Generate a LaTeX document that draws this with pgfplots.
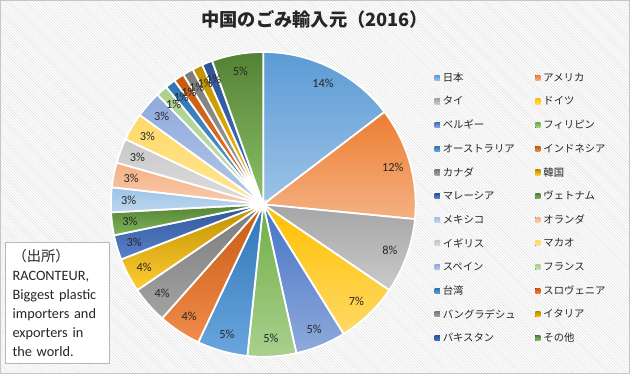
\documentclass[border=0pt]{standalone}
\usepackage{pgfplots}
\pgfplotsset{compat=1.18}
\usepackage{pgfplotstable}
\usetikzlibrary{patterns}
\usepackage{fontspec}
\setmainfont{Carlito}
\newfontfamily\cjk{Noto Sans CJK JP}

% slice colours (top / bottom of the vertical gradient)
\definecolor{pc0t}{HTML}{5B9BD5}\definecolor{pc0b}{HTML}{9DC3E6}
\definecolor{pc1t}{HTML}{ED7D31}\definecolor{pc1b}{HTML}{F4B183}
\definecolor{pc2t}{HTML}{A5A5A5}\definecolor{pc2b}{HTML}{CACACA}
\definecolor{pc3t}{HTML}{FFC000}\definecolor{pc3b}{HTML}{FFD966}
\definecolor{pc4t}{HTML}{4472C4}\definecolor{pc4b}{HTML}{8FAADC}
\definecolor{pc5t}{HTML}{70AD47}\definecolor{pc5b}{HTML}{A9D18E}
\definecolor{pc6t}{HTML}{2E75B6}\definecolor{pc6b}{HTML}{6AA6DE}
\definecolor{pc7t}{HTML}{C55A11}\definecolor{pc7b}{HTML}{F28C4C}
\definecolor{pc8t}{HTML}{7B7B7B}\definecolor{pc8b}{HTML}{A3A3A3}
\definecolor{pc9t}{HTML}{BF9000}\definecolor{pc9b}{HTML}{FFCC33}
\definecolor{pc10t}{HTML}{2F5597}\definecolor{pc10b}{HTML}{5A82CC}
\definecolor{pc11t}{HTML}{548235}\definecolor{pc11b}{HTML}{7EB55A}
\definecolor{pc12t}{HTML}{9DC3E6}\definecolor{pc12b}{HTML}{BDD7EE}
\definecolor{pc13t}{HTML}{F4B183}\definecolor{pc13b}{HTML}{F8CBAD}
\definecolor{pc14t}{HTML}{C9C9C9}\definecolor{pc14b}{HTML}{DDDDDD}
\definecolor{pc15t}{HTML}{FFD966}\definecolor{pc15b}{HTML}{FFE699}
\definecolor{pc16t}{HTML}{8FAADC}\definecolor{pc16b}{HTML}{B4C7E7}
\definecolor{pc17t}{HTML}{A9D18E}\definecolor{pc17b}{HTML}{C5E0B4}
\definecolor{pc18t}{HTML}{2E75B6}\definecolor{pc18b}{HTML}{5B9BD5}
\definecolor{pc19t}{HTML}{C55A11}\definecolor{pc19b}{HTML}{ED7D31}
\definecolor{pc20t}{HTML}{7B7B7B}\definecolor{pc20b}{HTML}{A5A5A5}
\definecolor{pc21t}{HTML}{BF9000}\definecolor{pc21b}{HTML}{FFC000}
\definecolor{pc22t}{HTML}{2F5597}\definecolor{pc22b}{HTML}{4472C4}
\definecolor{pc23t}{HTML}{548235}\definecolor{pc23b}{HTML}{8CC168}

\pgfplotstableread{
name val lab
日本 14.5 14
アメリカ 11.8 12
タイ 7.9 8
ドイツ 6.6 7
ベルギー 5.3 5
フィリピン 5.1 5
オーストラリア 5.3 5
インドネシア 4.5 4
カナダ 3.9 4
韓国 3.6 4
マレーシア 2.6 3
ヴェトナム 2.4 3
メキシコ 2.6 3
オランダ 2.6 3
イギリス 2.6 3
マカオ 2.9 3
スペイン 2.8 3
フランス 1.2 1
台湾 1.1 1
スロヴェニア 1.1 1
バングラデシュ 1.1 1
イタリア 1.1 1
パキスタン 1.1 1
その他 5.4 5
}\pietable

\def\pieTotal{0}
\pgfplotsforeachungrouped \i in {0,...,23}{%
  \pgfplotstablegetelem{\i}{val}\of\pietable
  \pgfmathsetmacro\pieTotal{\pieTotal+\pgfplotsretval}}
\def\pieCum{0}
\pgfplotsforeachungrouped \i in {0,...,23}{%
  \pgfplotstablegetelem{\i}{val}\of\pietable
  \pgfmathsetmacro\aS{90-\pieCum/\pieTotal*360}%
  \pgfmathsetmacro\pieCum{\pieCum+\pgfplotsretval}%
  \pgfmathsetmacro\aE{90-\pieCum/\pieTotal*360}%
  \pgfmathsetmacro\aM{(\aS+\aE)/2}%
  \expandafter\xdef\csname aS\i\endcsname{\aS}%
  \expandafter\xdef\csname aE\i\endcsname{\aE}%
  \expandafter\xdef\csname aM\i\endcsname{\aM}%
  \pgfplotstablegetelem{\i}{lab}\of\pietable
  \expandafter\xdef\csname lab\i\endcsname{\pgfplotsretval}%
  \pgfplotstablegetelem{\i}{name}\of\pietable
  \expandafter\xdef\csname nm\i\endcsname{\pgfplotsretval}%
}

\def\cx{266}
\def\cy{170.5}
\def\rr{154}

\begin{document}
\begin{tikzpicture}
\fill[white] (0,0) rectangle (636bp,377bp);
\fill[pattern=north west lines, pattern color=gray!28] (0,0) rectangle (636bp,377bp);
\draw[gray!45, line width=0.6bp] (0.3bp,0.3bp) rectangle (635.7bp,376.7bp);
\begin{axis}[
  hide axis, scale only axis,
  width=636bp, height=377bp,
  xmin=0, xmax=636, ymin=0, ymax=377,
  clip=false,
  legend columns=2,
  legend cell align=left,
  legend image code/.code={\fill[#1,draw=none] (0bp,-2.6bp) rectangle (5.2bp,2.6bp);},
  legend style={at={(axis cs:439,310.5)}, anchor=north west, draw=none, fill=none,
    inner sep=0pt, column sep=0pt, row sep=0pt,
    nodes={inner xsep=3bp, inner ysep=0pt, minimum height=23.9bp, anchor=west,
      font=\fontsize{10.5}{12}\cjk, text=black!85}},
]
\pgfplotsinvokeforeach{0,...,23}{
  \addplot[draw=white, line width=1.8bp, top color=pc#1t, bottom color=pc#1b]
    coordinates {(\cx,\cy)}
    -- ++(\csname aS#1\endcsname:\rr bp)
    arc[start angle=\csname aS#1\endcsname, end angle=\csname aE#1\endcsname, radius=\rr bp]
    -- cycle;
  \addlegendentry{\makebox[90.5bp][l]{\csname nm#1\endcsname}}
}
\pgfplotsinvokeforeach{0,...,23}{
  \node[font=\fontsize{12.5}{13}\selectfont, text=black!85, inner sep=0pt]
    at (axis cs:{\cx+136*cos(\csname aM#1\endcsname)},{\cy+136*sin(\csname aM#1\endcsname)})
    {\csname lab#1\endcsname\%};
}
\node[font=\fontsize{18.5}{20}\cjk\bfseries, text=black!85] at (axis cs:318,357.5) {中国のごみ輸入元（2016）};
\node[draw=gray!55, fill=white, anchor=north west, text width=90bp, inner xsep=7.5bp, inner ysep=5bp,
  align=left, font=\fontsize{14.5}{19.2}\selectfont, text=black!85, minimum height=122bp]
  at (axis cs:5,132) {{\cjk （出所）}\\RACONTEUR,\\Biggest plastic\\importers and\\exporters in\\the world.};
\end{axis}
\end{tikzpicture}
\end{document}
